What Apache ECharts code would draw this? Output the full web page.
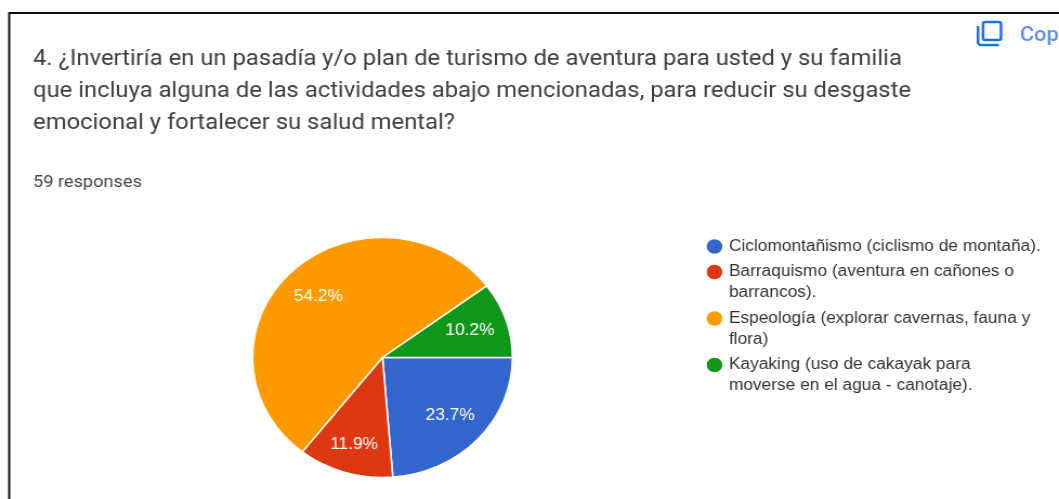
<!DOCTYPE html>
<html>
<head>
<meta charset="utf-8">
<style>
  html, body { margin: 0; padding: 0; background: #fff; overflow: hidden; }
  /* the source screenshot is stretched sideways, its pie is an ellipse */
  #chart { width: 978px; height: 499px; transform: scaleX(1.0828); transform-origin: 0 0; }
</style>
<script src="https://cdn.jsdelivr.net/npm/echarts@6/dist/echarts.min.js"></script>
</head>
<body>
<div id="chart"></div>
<script>
const questionLines = [
  '4. ¿Invertiría en un pasadía y/o plan de turismo de aventura para usted y su familia',
  'que incluya alguna de las actividades abajo mencionadas, para reducir su desgaste',
  'emocional y fortalecer su salud mental?'
]
const responsesLabel = '59 responses'
const categories = [
  'Ciclomontañismo (ciclismo de montaña).',
  'Barraquismo (aventura en cañones o\nbarrancos).',
  'Espeología (explorar cavernas, fauna y\nflora)',
  'Kayaking (uso de cakayak para\nmoverse en el agua - canotaje).'
]
const responses = [14, 7, 32, 6]
const colors = ['#3366cc', '#dc3912', '#ff9900', '#109618']

const stretch = 1.0828
const sx = (x) => x / stretch
const centerX = sx(382.5)
const centerY = 357.5
const pieRadius = 120
// how far out each percent label sits, echarts would use pieRadius / 2
const labelRadius = [82, 88, 82, 82]

const total = responses.reduce((a, b) => a + b, 0)

function midAngle(index) {
  const before = responses.slice(0, index).reduce((a, b) => a + b, 0)
  return ((before + responses[index] / 2) / total) * Math.PI * 2
}

const chart = echarts.init(document.getElementById('chart'))

chart.setOption({
  backgroundColor: '#fff',
  animation: false,
  title: [
    {
      text: questionLines.join('\n'),
      left: sx(33),
      top: 43,
      padding: 0,
      textStyle: {
        fontFamily: 'Roboto',
        fontSize: 22,
        fontWeight: 400,
        lineHeight: 32,
        color: '#3c4043',
      },
    },
    {
      text: responsesLabel,
      left: sx(33),
      top: 174,
      padding: 0,
      textStyle: {
        fontFamily: 'Roboto',
        fontSize: 16.8,
        fontWeight: 400,
        color: '#444',
      },
    },
  ],
  legend: {
    orient: 'vertical',
    left: sx(704.5),
    top: 236,
    padding: 0,
    icon: 'circle',
    itemWidth: 16.5,
    itemHeight: 16.5,
    // negative gap: two line items carry a blank first line so the dot sits on their first line
    itemGap: -16.5,
    selectedMode: false,
    data: categories,
    formatter: (name) => (name.includes('\n') ? ' \n' + name : name),
    textStyle: {
      fontFamily: 'Liberation Sans',
      fontSize: 16,
      lineHeight: 21,
      color: '#333',
    },
  },
  series: [
    {
      type: 'pie',
      center: [centerX, centerY],
      radius: pieRadius,
      startAngle: 0,
      clockwise: true,
      itemStyle: { borderColor: '#fff', borderWidth: 1.5 },
      color: colors,
      label: {
        show: true,
        position: 'inside',
        formatter: (p) => p.percent.toFixed(1) + '%',
        fontFamily: 'Liberation Sans',
        fontSize: 16,
        color: '#fff',
      },
      labelLine: { show: false },
      labelLayout: (params) => {
        const shift = labelRadius[params.dataIndex] - pieRadius / 2
        const angle = midAngle(params.dataIndex)
        return { dx: shift * Math.cos(angle), dy: shift * Math.sin(angle) }
      },
      data: categories.map((name, i) => ({ name, value: responses[i] })),
    },
  ],
  graphic: [
    // screenshot frame
    { type: 'rect', shape: { x: sx(9.2), y: 13, width: 1000, height: 500 }, style: { fill: 'none', stroke: '#111', lineWidth: 2 } },
    // copy icon
    { type: 'rect', shape: { x: sx(983), y: 22, width: sx(18), height: 18, r: 2 }, style: { fill: 'none', stroke: '#1a73e8', lineWidth: 2.5 } },
    { type: 'polyline', shape: { points: [[sx(978), 26], [sx(978), 43], [sx(980), 45], [sx(999), 45]] }, style: { fill: 'none', stroke: '#1a73e8', lineWidth: 2.5 } },
    { type: 'text', style: { x: sx(1020), y: 26, text: 'Cop', fontFamily: 'Roboto', fontSize: 20, fontWeight: 500, fill: '#5a8df5' } },
  ],
})
</script>
</body>
</html>
